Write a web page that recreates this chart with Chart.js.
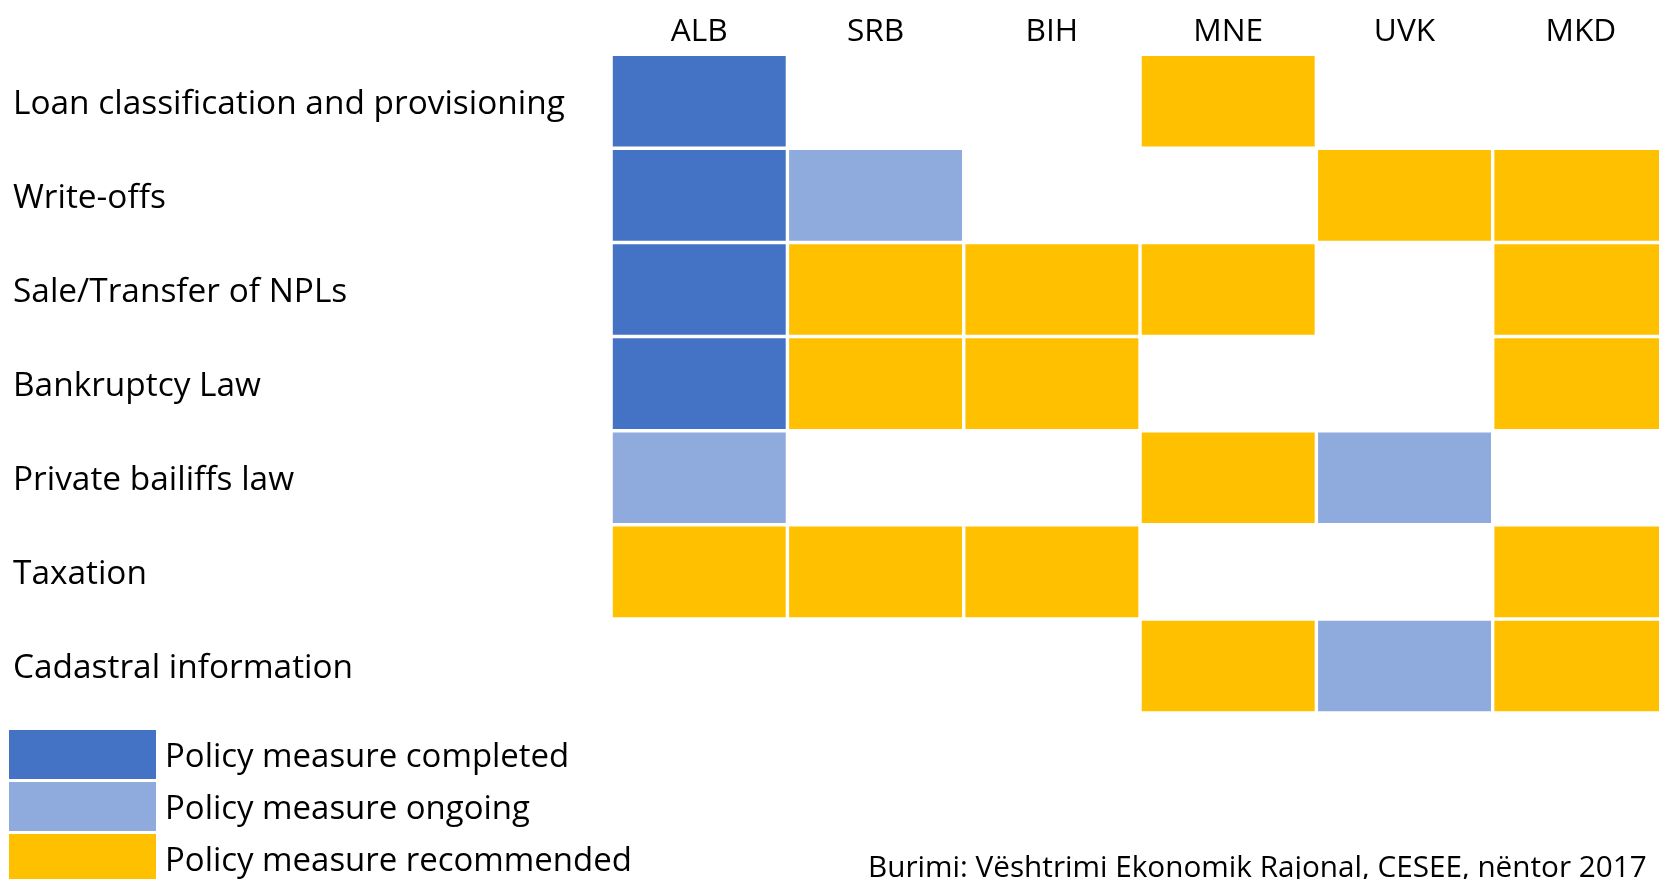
<!DOCTYPE html>
<html>
<head>
<meta charset="utf-8">
<style>
  html, body { margin: 0; padding: 0; background: #ffffff; overflow: hidden; }
  #wrap { width: 1700px; height: 879px; position: relative; }
</style>
<script src="https://cdn.jsdelivr.net/npm/chart.js@4.4.1/dist/chart.umd.min.js"></script>
</head>
<body>
<div id="wrap"><canvas id="c" width="1700" height="879"></canvas></div>
<script>
// ---------------- DATA ----------------
const ROWS = [
  'Loan classification and provisioning',
  'Write-offs',
  'Sale/Transfer of NPLs',
  'Bankruptcy Law',
  'Private bailiffs law',
  'Taxation',
  'Cadastral information'
];
const COUNTRIES = ['ALB', 'SRB', 'BIH', 'MNE', 'UVK', 'MKD'];
const STATUS_LABELS = ['Policy measure completed', 'Policy measure ongoing', 'Policy measure recommended'];
// status codes per country (ALB, SRB, BIH, MNE, UVK, MKD): 0 none, 1 completed, 2 ongoing, 3 recommended
const LOAN_CLASSIFICATION = [1, 0, 0, 3, 0, 0];
const WRITE_OFFS          = [1, 2, 0, 0, 3, 3];
const SALE_TRANSFER       = [1, 3, 3, 3, 0, 3];
const BANKRUPTCY_LAW      = [1, 3, 3, 0, 0, 3];
const PRIVATE_BAILIFFS    = [2, 0, 0, 3, 2, 0];
const TAXATION            = [3, 3, 3, 0, 0, 3];
const CADASTRAL           = [0, 0, 0, 3, 2, 3];
const SOURCE_NOTE = 'Burimi: Vështrimi Ekonomik Rajonal, CESEE, nëntor 2017';

// ---------------- STYLE ----------------
const MATRIX = [LOAN_CLASSIFICATION, WRITE_OFFS, SALE_TRANSFER, BANKRUPTCY_LAW, PRIVATE_BAILIFFS, TAXATION, CADASTRAL];
const COLORS = ['#4472C4', '#8FAADC', '#FFC000'];
const FAMILY = "'Open Sans', 'Noto Sans', sans-serif";

const mctx = document.createElement('canvas').getContext('2d');
function fitSize(text, width) {
  mctx.font = '100px ' + FAMILY;
  return 100 * width / mctx.measureText(text).width;
}
const rowFont = fitSize(ROWS[0], 552);
const colFont = fitSize('ALB', 57);
const legFont = fitSize(STATUS_LABELS[2], 467);
const srcFont = fitSize(SOURCE_NOTE, 779);

const datasets = STATUS_LABELS.map((label, s) => {
  const data = [];
  MATRIX.forEach((row, r) => {
    row.forEach((code, c) => {
      if (code === s + 1) data.push({ x: [c, c + 1], y: ROWS[r] });
    });
  });
  return {
    label,
    data,
    backgroundColor: COLORS[s],
    borderColor: '#ffffff',
    borderWidth: { top: 1.75, bottom: 1.75, left: 1.7, right: 1.7 },
    borderSkipped: false,
    grouped: false,
    barPercentage: 1,
    categoryPercentage: 1,
    inflateAmount: 0
  };
});

const legendPlugin = {
  id: 'sideLegend',
  afterDraw(chart) {
    const ctx = chart.ctx;
    ctx.save();
    ctx.textAlign = 'left';
    ctx.textBaseline = 'alphabetic';
    chart.data.datasets.forEach((ds, i) => {
      ctx.fillStyle = ds.backgroundColor;
      ctx.fillRect(9, 730 + i * 52, 147, 49);
      ctx.fillStyle = '#000000';
      ctx.font = legFont + 'px ' + FAMILY;
      ctx.fillText(ds.label, 165, 767 + i * 52);
    });
    ctx.font = srcFont + 'px ' + FAMILY;
    ctx.fillStyle = '#000000';
    ctx.fillText(SOURCE_NOTE, 868, 876.5);
    ctx.restore();
  }
};

new Chart(document.getElementById('c'), {
  type: 'bar',
  data: { labels: ROWS, datasets },
  options: {
    indexAxis: 'y',
    responsive: false,
    animation: false,
    layout: { padding: { left: 13, right: 31, top: 0, bottom: 879 - 713 } },
    scales: {
      x: { type: 'linear', min: 0, max: COUNTRIES.length, display: false },
      xTop: {
        axis: 'x',
        type: 'category',
        labels: COUNTRIES,
        position: 'top',
        offset: true,
        grid: { display: false, drawTicks: false },
        border: { display: false },
        ticks: { color: '#000000', font: { family: FAMILY, size: colFont }, padding: 3.5, maxRotation: 0 },
        afterFit(a) { a.height = 54.25; }
      },
      y: {
        type: 'category',
        offset: true,
        grid: { display: false, drawTicks: false },
        border: { display: false },
        ticks: { color: '#000000', font: { family: FAMILY, size: rowFont }, crossAlign: 'far', padding: 0, labelOffset: 3 },
        afterFit(a) { a.width = 598.1; }
      }
    },
    plugins: {
      legend: { display: false },
      tooltip: { enabled: false }
    }
  },
  plugins: [legendPlugin]
});
</script>
</body>
</html>
